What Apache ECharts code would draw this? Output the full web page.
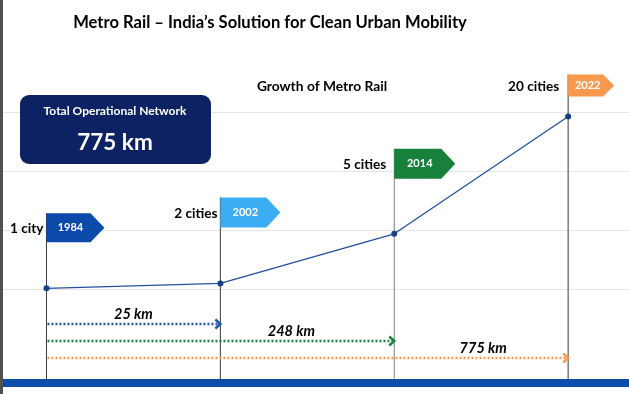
<!DOCTYPE html>
<html><head><meta charset="utf-8">
<script src="https://cdn.jsdelivr.net/npm/echarts@6/dist/echarts.min.js"></script>
<style>html,body{margin:0;padding:0;background:#fff}#c{width:629px;height:394px}</style>
</head><body><div id="c"></div>
<script>
// ---- data ----
const years = ['1984', '2002', '2014', '2022'];
const cityLabels = ['1 city', '2 cities', '5 cities', '20 cities'];
const networkKm = [3, 25, 248, 775];
const yTicks = [0, 265, 530, 795];

// ---- styles ----
const FONT = 'Lato, "Noto Sans", sans-serif';
const flagColors = ['#0b4aa8', '#3badf2', '#17803a', '#f7994f'];
const stemColors = ['#3a3a3a', '#3a3a3a', '#808080', '#3a3a3a'];
const flagLift = [75, 86, 85, 42];
const flagW = [58, 60, 61, 46];
const flagH = [29, 30, 30, 22];
const flagTip = [14, 14, 14, 11];
const cityGap = [3, 3, 8, 9];
const arrowColors = ['#2456a8', '#1f7f3e', '#f79c58'];
const arrowDrop = [35, 52, 69];
const reachShift = [0, -16, 2];
const bandDrop = 90;

function renderMilestone(params, api) {
  const i = params.dataIndex;
  const pt = api.coord([api.value(0), api.value(1)]);
  const base = api.coord([api.value(0), 0]);
  const x = pt[0];
  const top = pt[1] - flagLift[i];
  const w = flagW[i], h = flagH[i], tip = flagTip[i];
  return { type: 'group', children: [
    { type: 'line', shape: { x1: x, y1: top, x2: x, y2: base[1] + bandDrop }, style: { stroke: stemColors[i], lineWidth: 1 } },
    { type: 'polygon', shape: { points: [[x, top], [x + w - tip, top], [x + w, top + h / 2], [x + w - tip, top + h], [x, top + h]] }, style: { fill: flagColors[i] } },
    { type: 'text', x: x + (w - tip) / 2 + 2, y: top + h / 2, style: { text: years[i], fill: '#fff', font: 'bold 11px ' + FONT, align: 'center', verticalAlign: 'middle' } },
    { type: 'text', x: x - cityGap[i], y: top + h / 2 + 1, style: { text: cityLabels[i], fill: '#000', font: 'bold 13.6px ' + FONT, align: 'right', verticalAlign: 'middle' } }
  ]};
}

function renderReach(params, api) {
  const k = params.dataIndex;
  const idx = api.value(0);
  const start = api.coord([0, 0]);
  const end = api.coord([idx, 0]);
  const prev = api.coord([idx - 1, 0]);
  const y = start[1] + arrowDrop[k];
  const c = arrowColors[k];
  return { type: 'group', children: [
    { type: 'line', shape: { x1: start[0] + 1, y1: y, x2: end[0] - 2, y2: y }, style: { stroke: c, lineWidth: 2.5, lineDash: [2, 2] } },
    { type: 'polyline', shape: { points: [[end[0] - 5, y - 4.5], [end[0], y], [end[0] - 5, y + 4.5]] }, style: { stroke: c, lineWidth: 2.5, fill: null } },
    { type: 'text', x: (prev[0] + end[0]) / 2 + reachShift[k], y: y - 10, style: { text: api.value(1) + ' km', fill: '#000', font: 'italic bold 14.5px ' + FONT, align: 'center', verticalAlign: 'middle' } }
  ]};
}

const chart = echarts.init(document.getElementById('c'), null, { renderer: 'canvas' });
chart.setOption({
  animation: false,
  backgroundColor: '#fff',
  title: [
    { text: 'Metro Rail \u2013 India\u2019s Solution for Clean Urban Mobility', left: 265, top: 9, textAlign: 'center',
      textStyle: { fontFamily: FONT, fontWeight: 'bold', fontSize: 16.6, color: '#000' } },
    { text: 'Growth of Metro Rail', left: 317, top: 75, textAlign: 'center',
      textStyle: { fontFamily: FONT, fontWeight: 'bold', fontSize: 13.8, color: '#000' } }
  ],
  grid: { left: 3, right: 0, top: 112, bottom: 105 },
  xAxis: { type: 'value', min: -0.25, max: 3.35, show: false },
  yAxis: { type: 'value', min: yTicks[0], max: yTicks[yTicks.length - 1], interval: yTicks[1] - yTicks[0],
    axisLine: { show: false }, axisTick: { show: false }, axisLabel: { show: false },
    splitLine: { show: true, lineStyle: { color: '#e4e4e4', width: 1 } } },
  graphic: [
    { type: 'rect', left: 0, top: 0, z: 100, shape: { width: 3, height: 394 }, style: { fill: '#505050' } },
    { type: 'rect', left: 3, top: 379, z: 100, shape: { width: 626, height: 8 }, style: { fill: '#0c4dab' } },
    { type: 'group', left: 20, top: 95, z: 100, children: [
      { type: 'rect', z: 100, shape: { x: 0, y: 0, width: 191, height: 69, r: 9 }, style: { fill: '#0c2262' } },
      { type: 'text', z: 101, x: 95, y: 16, style: { text: 'Total Operational Network', fill: '#fff', font: 'bold 12px ' + FONT, align: 'center', verticalAlign: 'middle' } },
      { type: 'text', z: 101, x: 95, y: 48, style: { text: networkKm[networkKm.length - 1] + ' km', fill: '#fff', font: 'bold 22.5px ' + FONT, align: 'center', verticalAlign: 'middle' } }
    ]}
  ],
  series: [
    { type: 'custom', name: 'milestones', renderItem: renderMilestone, z: 2,
      data: years.map((y, i) => [i, networkKm[i]]) },
    { type: 'custom', name: 'reach', renderItem: renderReach, z: 2,
      data: [1, 2, 3].map(i => [i, networkKm[i]]) },
    { type: 'line', name: 'network', z: 5,
      data: years.map((y, i) => [i, networkKm[i]]),
      symbol: 'circle', symbolSize: 6,
      lineStyle: { color: '#22509f', width: 1.3 },
      itemStyle: { color: '#173f88' } }
  ]
});
</script>
</body></html>
